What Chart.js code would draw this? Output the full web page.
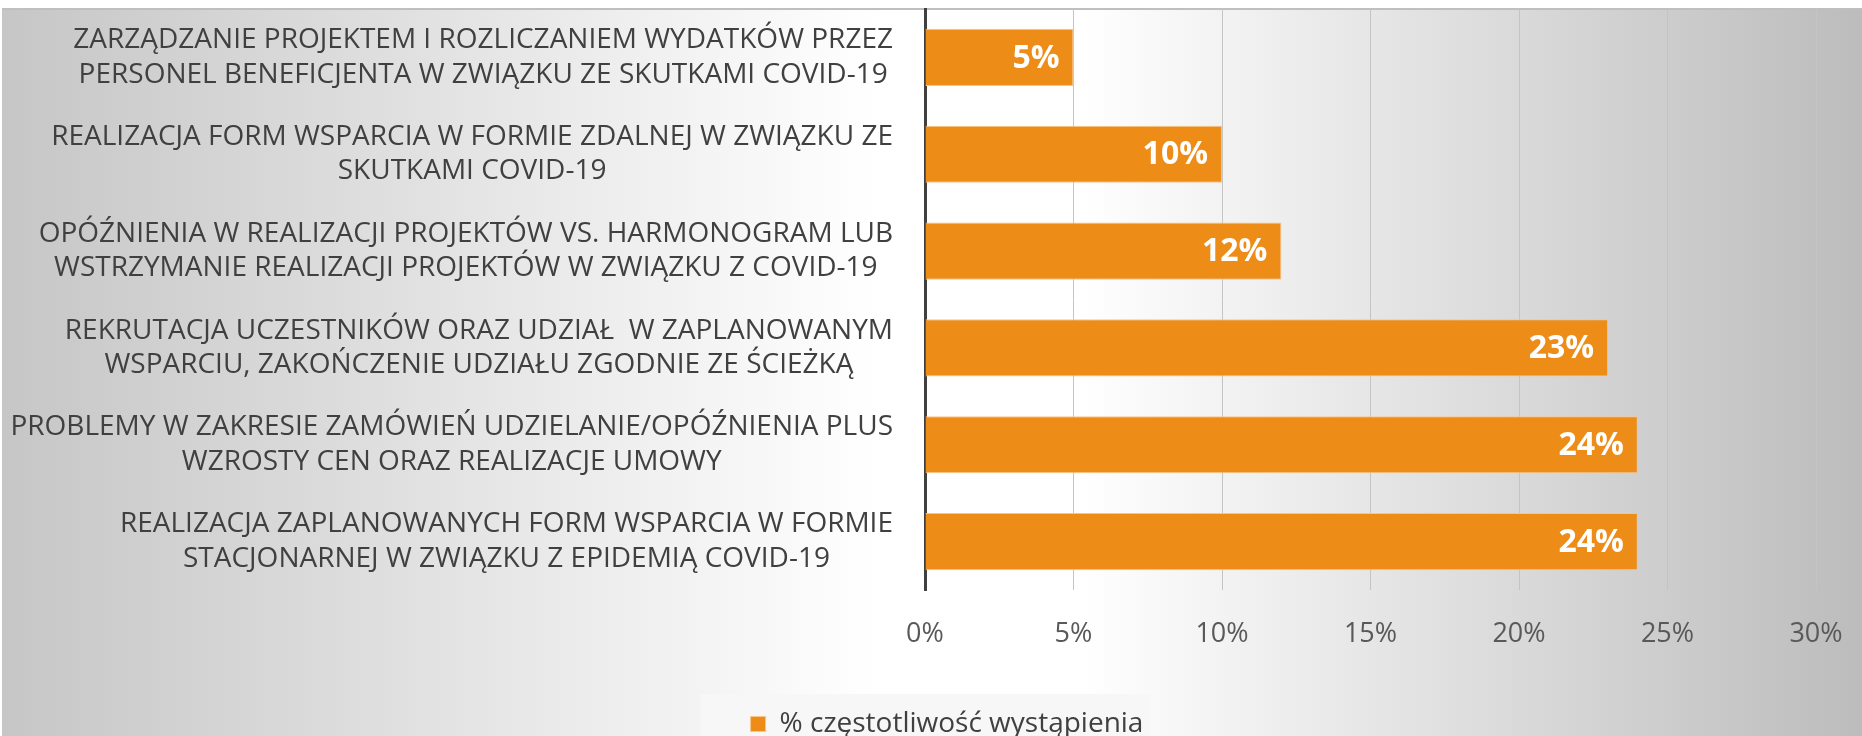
<!DOCTYPE html>
<html>
<head>
<meta charset="utf-8">
<script src="https://cdn.jsdelivr.net/npm/chart.js@4.4.0/dist/chart.umd.min.js"></script>
<style>
html, body { margin: 0; padding: 0; background: #fff; overflow: hidden; }
#wrap { width: 1862px; height: 736px; position: relative; }
canvas { display: block; }
</style>
</head>
<body>
<div id="wrap"><canvas id="myChart"></canvas></div>
<script>
// categories, top to bottom
var categories = [
    ['ZARZĄDZANIE PROJEKTEM I ROZLICZANIEM WYDATKÓW PRZEZ', 'PERSONEL BENEFICJENTA W ZWIĄZKU ZE SKUTKAMI COVID-19'],
    ['REALIZACJA FORM WSPARCIA W FORMIE ZDALNEJ W ZWIĄZKU ZE', 'SKUTKAMI COVID-19'],
    ['OPÓŹNIENIA W REALIZACJI PROJEKTÓW VS. HARMONOGRAM LUB', 'WSTRZYMANIE REALIZACJI PROJEKTÓW W ZWIĄZKU Z COVID-19'],
    ['REKRUTACJA UCZESTNIKÓW ORAZ UDZIAŁ  W ZAPLANOWANYM', 'WSPARCIU, ZAKOŃCZENIE UDZIAŁU ZGODNIE ZE ŚCIEŻKĄ'],
    ['PROBLEMY W ZAKRESIE ZAMÓWIEŃ UDZIELANIE/OPÓŹNIENIA PLUS ', 'WZROSTY CEN ORAZ REALIZACJE UMOWY'],
    ['REALIZACJA ZAPLANOWANYCH FORM WSPARCIA W FORMIE', 'STACJONARNEJ W ZWIĄZKU Z EPIDEMIĄ COVID-19']
];
var values = [5, 10, 12, 23, 24, 24];
var seriesName = '% częstotliwość wystąpienia';
var xMin = 0, xMax = 30, xStep = 5;

var FONT = '"Open Sans", sans-serif';

// background + legend box
var backdrop = {
    id: 'backdrop',
    beforeDraw: function(chart) {
        var ctx = chart.ctx, w = chart.width, h = chart.height;
        ctx.save();
        ctx.fillStyle = '#ffffff';
        ctx.fillRect(0, 0, w, h);
        var g = ctx.createLinearGradient(2, 0, w, 0);
        g.addColorStop(0, '#c6c6c6');
        g.addColorStop(0.47, '#ffffff');
        g.addColorStop(0.58, '#ffffff');
        g.addColorStop(1, '#bcbcbc');
        ctx.fillStyle = g;
        ctx.fillRect(2, 9, w - 2, h - 9);
        ctx.fillStyle = '#bfbfbf';
        ctx.fillRect(2, 8, w - 2, 2);
        var hb = chart.legend && chart.legend.legendHitBoxes && chart.legend.legendHitBoxes[0];
        if (hb) {
            ctx.fillStyle = 'rgba(246,246,246,0.92)';
            ctx.fillRect(hb.left - 50, 694, hb.width + 57, h - 694);
        }
        ctx.restore();
    }
};

// category labels: block right aligned, lines centred inside the block
var catLabels = {
    id: 'catLabels',
    afterDraw: function(chart) {
        var ctx = chart.ctx, ys = chart.scales.y;
        ctx.save();
        ctx.font = '28px ' + FONT;
        ctx.fillStyle = '#404040';
        ctx.textAlign = 'center';
        ctx.textBaseline = 'middle';
        var right = ys.right - 32, lh = 34.5;
        categories.forEach(function(lines, i) {
            var widest = 0;
            lines.forEach(function(t) { widest = Math.max(widest, ctx.measureText(t.trim()).width); });
            var cx = right - widest / 2;
            var cy = ys.getPixelForValue(i);
            lines.forEach(function(t, j) {
                ctx.fillText(t.trim(), cx, cy + (j - (lines.length - 1) / 2) * lh);
            });
        });
        ctx.restore();
    }
};

// value labels inside bar ends
var barLabels = {
    id: 'barLabels',
    afterDatasetsDraw: function(chart) {
        var ctx = chart.ctx;
        var meta = chart.getDatasetMeta(0);
        ctx.save();
        ctx.font = 'bold 32px ' + FONT;
        ctx.fillStyle = '#ffffff';
        ctx.textAlign = 'right';
        ctx.textBaseline = 'middle';
        meta.data.forEach(function(bar, i) {
            ctx.fillText(values[i] + '%', bar.x - 14, bar.y + 1);
        });
        ctx.restore();
    }
};

var config = {
    type: 'bar',
    data: {
        labels: categories,
        datasets: [{
            label: seriesName,
            data: values,
            backgroundColor: '#ED8C17',
            borderColor: '#F6C58C',
            borderWidth: 1,
            barPercentage: 0.59,
            categoryPercentage: 1
        }]
    },
    options: {
        indexAxis: 'y',
        responsive: true,
        maintainAspectRatio: false,
        animation: false,
        layout: { padding: { top: 9, right: 46, bottom: -12, left: 78 } },
        scales: {
            x: {
                min: xMin,
                max: xMax,
                ticks: {
                    stepSize: xStep,
                    padding: 16,
                    color: '#595959',
                    font: { family: FONT, size: 27 },
                    callback: function(v) { return v + '%'; }
                },
                grid: { color: '#c4c4c4', lineWidth: 1, drawTicks: true, tickLength: 12, tickColor: 'rgba(0,0,0,0)' },
                border: { display: false },
                afterFit: function(scale) { scale.height = 110; }
            },
            y: {
                ticks: { display: false },
                grid: { display: false, drawTicks: false },
                border: { display: true, color: '#404040', width: 3 },
                afterFit: function(scale) { scale.width = 847; }
            }
        },
        plugins: {
            legend: {
                position: 'bottom',
                labels: {
                    boxWidth: 15,
                    boxHeight: 15,
                    padding: 10,
                    color: '#404040',
                    font: { family: FONT, size: 28 }
                }
            },
            tooltip: { enabled: false }
        }
    },
    plugins: [backdrop, catLabels, barLabels]
};

var chart = new Chart(document.getElementById('myChart').getContext('2d'), config);
</script>
</body>
</html>
